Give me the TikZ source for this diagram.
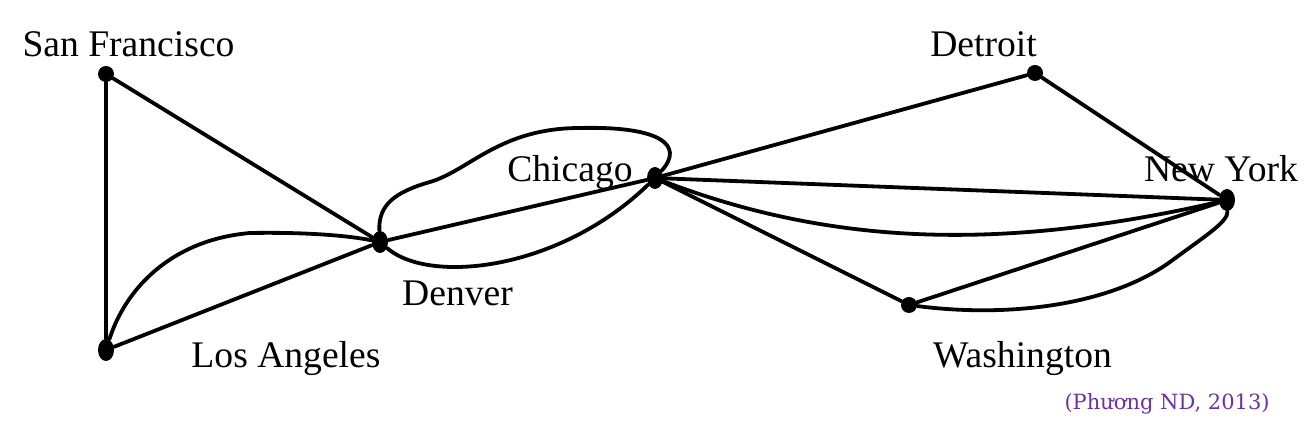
\documentclass[tikz,border=0pt]{standalone}
\usepackage{fontspec}
\setmainfont{Liberation Serif}
\newfontfamily\creditfont{DejaVu Serif}
\usetikzlibrary{shapes.geometric}
\definecolor{creditpurple}{RGB}{112,48,160}
\begin{document}
\begin{tikzpicture}[x=0.5pt,y=-0.5pt,
  city/.style={ellipse, fill=black, inner sep=0pt, minimum width=8pt, minimum height=8pt},
  tallcity/.style={city, minimum height=11pt},
  lbl/.style={anchor=base, inner sep=0pt, font=\fontsize{18.8}{22}\selectfont},
  road/.style={line width=1.9pt, line cap=round}]
\useasboundingbox (0,0) rectangle (1312,421);
% cities
\node[city] (sf)  at (106,74) {};
\node[tallcity] (la)  at (106,350) {};
\node[tallcity] (den) at (380,242) {};
\node[tallcity] (chi) at (655,178) {};
\node[city] (det) at (1035,73) {};
\node[tallcity] (ny)  at (1227,200) {};
\node[city] (was) at (909,305) {};
% labels
\node[lbl] (sfl)  at (128.5,57) {San Francisco};
\node[lbl] (detl) at (983.5,57) {Detroit};
\node[lbl] (chil) at (570,182) {Chicago};
\node[lbl] (nyl)  at (1221,182) {New York};
\node[lbl] (denl) at (457.5,306) {Denver};
\node[lbl] (lal)  at (286,368) {Los Angeles};
\node[lbl] (wasl) at (1022.5,368) {Washington};
\node[anchor=base east, inner sep=0pt, text=creditpurple, font=\creditfont\fontsize{10.5}{12}\selectfont] (credit) at (1270,410) {(Phương ND, 2013)};
% roads
\draw[road] (sf) -- (la);
\draw[road] (sf) -- (den);
\draw[road] (la) -- (den);
\draw[road] (la) .. controls (125,290) and (170,240) .. (250,233) .. controls (310,232) and (350,236) .. (den);
\draw[road] (den) -- (chi);
\draw[road] (den) .. controls (378,205) and (395,192) .. (430,182) .. controls (470,170) and (500,128) .. (580,128) .. controls (660,126) and (685,145) .. (chi);
\draw[road] (den) .. controls (430,285) and (560,270) .. (chi);
\draw[road] (chi) -- (det);
\draw[road] (det) -- (ny);
\draw[road] (chi) -- (ny);
\draw[road] (chi) .. controls (830,245) and (1000,252) .. (ny);
\draw[road] (chi) -- (was);
\draw[road] (was) -- (ny);
\draw[road] (was) .. controls (1010,318) and (1110,305) .. (1170,262) .. controls (1205,236) and (1228,222) .. (ny);
\end{tikzpicture}
\end{document}
